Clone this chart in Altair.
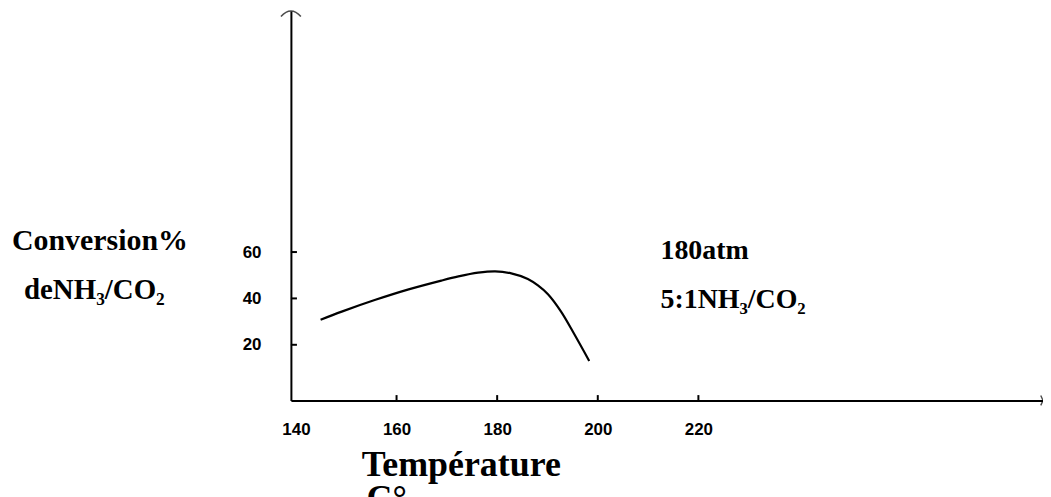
import altair as alt
import pandas as pd

# ---- data ----
temp = [144.9, 149.1, 155.8, 162.4, 168.9, 172.3, 176.2, 179.6, 182.8, 186.1, 188.1, 190.1, 192.7, 195.4, 198.3]
conv = [30.8, 34.3, 39.4, 43.9, 47.7, 49.5, 51.1, 51.7, 50.8, 48.4, 45.6, 41.8, 34.3, 24.3, 13.0]
x_labels = [140, 160, 180, 200, 220]
x_tick_marks = [160, 180, 200, 220]
y_labels = [20, 40, 60]
x_domain = [139, 288.5]
y_domain = [-4, 164]

W, H = 755, 391
SERIF = "Liberation Serif"
SANS = "Liberation Sans"

curve = pd.DataFrame({"T": temp, "C": conv})
xs = alt.Scale(domain=x_domain, nice=False, zero=False)
ys = alt.Scale(domain=y_domain, nice=False, zero=False)

x_axis = alt.Axis(values=x_labels, title=None, grid=False, ticks=False,
                  domainColor="black", domainWidth=2, labelPadding=21,
                  labelFont=SANS, labelFontWeight="bold", labelFontSize=17,
                  labelColor="black")
y_axis = alt.Axis(values=y_labels, title=None, grid=False, ticks=False,
                  domainColor="black", domainWidth=2, labelPadding=30,
                  labelFont=SANS, labelFontWeight="bold", labelFontSize=17,
                  labelColor="black")

line = alt.Chart(curve).mark_line(color="black", strokeWidth=2.2,
                                   interpolate="catmull-rom").encode(
    x=alt.X("T:Q", scale=xs, axis=x_axis),
    y=alt.Y("C:Q", scale=ys, axis=y_axis),
)

# inward tick marks
xt = alt.Chart(pd.DataFrame({"T": x_tick_marks})).mark_rule(
    color="black", strokeWidth=2).encode(
    x=alt.X("T:Q", scale=xs),
    y=alt.datum(y_domain[0], scale=ys),
    y2=alt.datum(y_domain[0] + 2.3),
)
yt = alt.Chart(pd.DataFrame({"C": y_labels})).mark_rule(
    color="black", strokeWidth=2).encode(
    y=alt.Y("C:Q", scale=ys),
    x=alt.datum(x_domain[0], scale=xs),
    x2=alt.datum(x_domain[0] + 1.2),
)

# arrow heads at axis ends
up = alt.Chart(pd.DataFrame({"a": [0]})).mark_point(
    shape="M -1 0.55 Q -0.5 0 0 0 Q 0.5 0 1 0.55", filled=False, color="black",
    strokeWidth=1.6, size=400).encode(
    x=alt.datum(x_domain[0], scale=xs), y=alt.datum(y_domain[1], scale=ys))
right = alt.Chart(pd.DataFrame({"a": [0]})).mark_point(
    shape="M -0.45 -1 L 0 0 L -0.45 1", filled=False, color="black",
    strokeWidth=1.4, size=100).encode(
    x=alt.datum(x_domain[1], scale=xs), y=alt.datum(y_domain[0], scale=ys))


def note(text, px, py, size, font=SERIF):
    return alt.Chart(pd.DataFrame({"t": [text]})).mark_text(
        align="left", baseline="alphabetic", font=font, fontWeight="bold",
        fontSize=size, color="black").encode(
        text="t:N", x=alt.value(px), y=alt.value(py))


notes = [
    note("Conversion%", -280, 240, 30),
    note("deNH\u2083/CO\u2082", -268, 289, 29),
    note("180atm", 371, 249, 28),
    note("5:1NH\u2083/CO\u2082", 371, 298, 28),
    note("Température", 71, 467, 36),
    note("C°", 76, 501, 36),
]

chart = alt.layer(line, xt, yt, up, right, *notes).properties(
    width=W, height=H,
    padding={"left": 284, "top": 2, "right": 0, "bottom": 96},
    autosize=alt.AutoSizeParams(type="none"),
    background="white",
).configure_view(stroke=None)

chart.save("out.html", embed_options={"renderer": "svg", "actions": False})
